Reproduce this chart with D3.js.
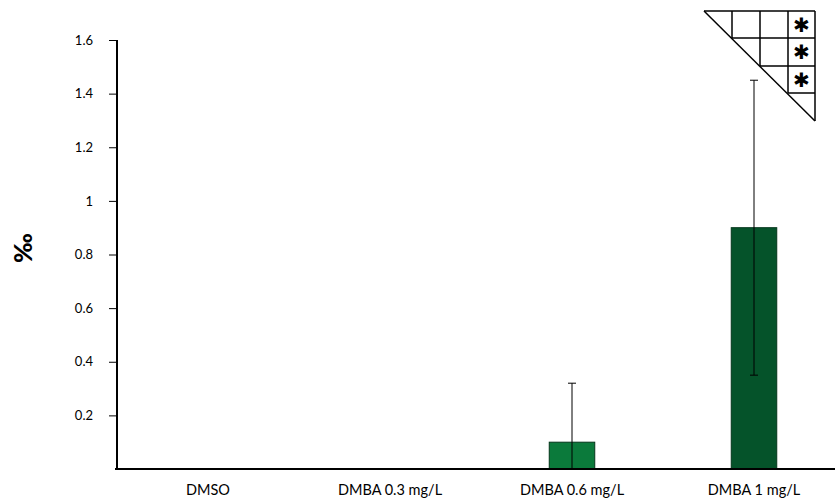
<!DOCTYPE html>
<html>
<head>
<meta charset="utf-8">
<script src="https://cdn.jsdelivr.net/npm/d3@7"></script>
<style>
  body { margin: 0; background: #fff; }
  svg { display: block; font-family: Lato, "Open Sans", "Liberation Sans", sans-serif; }
</style>
</head>
<body>
<div id="chart-area"></div>
<script>
var categories = ["DMSO", "DMBA 0.3 mg/L", "DMBA 0.6 mg/L", "DMBA 1 mg/L"];
var values = [0, 0, 0.1, 0.9];
var errors = [0, 0, 0.22, 0.55];
var barColors = ["#0b7a3b", "#0b7a3b", "#0b7a3b", "#05532a"];
var tickValues = [0.2, 0.4, 0.6, 0.8, 1, 1.2, 1.4, 1.6];

var data = categories.map(function(c, i){
    return {name: c, value: values[i], err: errors[i], color: barColors[i]};
});

var width = 836, height = 504;
var font = "Lato, 'Open Sans', sans-serif";

var svg = d3.select("#chart-area")
    .append("svg")
    .attr("width", width)
    .attr("height", height);

var x = d3.scaleBand()
    .domain(categories)
    .range([117, 845])
    .padding(0);

var y = d3.scaleLinear()
    .domain([0, 1.6])
    .range([469, 40]);

var barW = x.bandwidth() * 0.25;

// bars
svg.selectAll("rect.bar")
    .data(data.filter(function(d){ return d.value > 0; }))
    .enter()
    .append("rect")
    .attr("class", "bar")
    .attr("x", function(d){ return x(d.name) + x.bandwidth() / 2 - barW / 2; })
    .attr("y", function(d){ return y(d.value); })
    .attr("width", barW)
    .attr("height", function(d){ return y(0) - y(d.value); })
    .attr("fill", function(d){ return d.color; })
    .attr("stroke", "#04361b")
    .attr("stroke-width", 1);

// error bars
var eb = svg.selectAll("g.err")
    .data(data.filter(function(d){ return d.err > 0; }))
    .enter()
    .append("g")
    .attr("class", "err")
    .attr("transform", function(d){ return "translate(" + (x(d.name) + x.bandwidth() / 2) + ",0)"; });

eb.append("line")
    .attr("y1", function(d){ return y(Math.max(0, d.value - d.err)); })
    .attr("y2", function(d){ return y(d.value + d.err); })
    .attr("stroke", "#000")
    .attr("stroke-width", 1);

eb.append("line")
    .attr("x1", -4).attr("x2", 4)
    .attr("y1", function(d){ return y(d.value + d.err); })
    .attr("y2", function(d){ return y(d.value + d.err); })
    .attr("stroke", "#000");

eb.filter(function(d){ return d.value - d.err > 0; })
    .append("line")
    .attr("x1", -4).attr("x2", 4)
    .attr("y1", function(d){ return y(d.value - d.err); })
    .attr("y2", function(d){ return y(d.value - d.err); })
    .attr("stroke", "#000");

// y axis
var yAxisCall = d3.axisLeft(y)
    .tickValues(tickValues)
    .tickSize(8)
    .tickPadding(16)
    .tickFormat(function(d){ return d3.format("")(d); });

var yAxis = svg.append("g")
    .attr("class", "y axis")
    .attr("transform", "translate(117,0)")
    .call(yAxisCall)
    .attr("font-family", font)
    .attr("font-size", "13px");
yAxis.select(".domain").remove();
yAxis.append("line")
    .attr("x1", 0).attr("x2", 0)
    .attr("y1", y(1.6)).attr("y2", y(0))
    .attr("stroke", "#000").attr("stroke-width", 2);
yAxis.selectAll(".tick line").attr("stroke", "#000");
yAxis.selectAll("text").attr("fill", "#000");

// x axis
var xAxisCall = d3.axisBottom(x).tickSize(0).tickPadding(16);
var xAxis = svg.append("g")
    .attr("class", "x axis")
    .attr("transform", "translate(0," + y(0) + ")")
    .call(xAxisCall)
    .attr("font-family", font)
    .attr("font-size", "14.5px");
xAxis.select(".domain").remove();
xAxis.append("line")
    .attr("x1", 115).attr("x2", 835)
    .attr("stroke", "#000").attr("stroke-width", 2);
xAxis.selectAll("text").attr("fill", "#000");

// y label
svg.append("text")
    .attr("transform", "translate(22,248) rotate(-90)")
    .attr("text-anchor", "middle")
    .attr("dominant-baseline", "central")
    .attr("font-family", font)
    .attr("font-size", "25px")
    .attr("font-weight", "900")
    .text("‰");

// significance grid (triangle)
var g = svg.append("g").attr("stroke", "#000").attr("stroke-width", 1.5).attr("fill", "none");
var gx = [704, 732, 760, 788, 815];
var gy = [11, 38, 66, 93, 121];
g.append("line").attr("x1", gx[0]).attr("y1", gy[0]).attr("x2", gx[4]).attr("y2", gy[0]);
g.append("line").attr("x1", gx[4]).attr("y1", gy[0]).attr("x2", gx[4]).attr("y2", gy[4]);
g.append("line").attr("x1", gx[0]).attr("y1", gy[0]).attr("x2", gx[4]).attr("y2", gy[4]);
for (var k = 1; k <= 3; k++) {
    g.append("line").attr("x1", gx[k]).attr("y1", gy[0]).attr("x2", gx[k]).attr("y2", gy[k]);
    g.append("line").attr("x1", gx[k]).attr("y1", gy[k]).attr("x2", gx[4]).attr("y2", gy[k]);
}
for (var r = 0; r < 3; r++) {
    svg.append("text")
        .attr("x", (gx[3] + gx[4]) / 2)
        .attr("y", (gy[r] + gy[r + 1]) / 2)
        .attr("text-anchor", "middle")
        .attr("dominant-baseline", "central")
        .attr("font-size", "20px")
        .attr("font-family", "DejaVu Sans")
        .text("✱");
}
</script>
</body>
</html>
